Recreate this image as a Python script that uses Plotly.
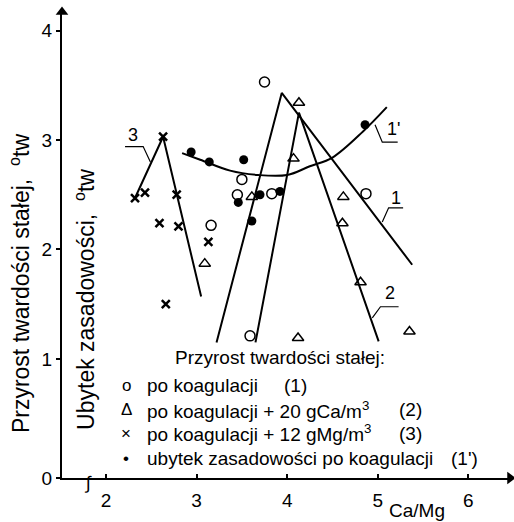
import plotly.graph_objects as go

# ---- data ----
tick_x = [2, 3, 4, 5, 6]
tick_y = [0, 1, 2, 3, 4]

# series 1: po koagulacji (open circles)
x1 = [3.16, 3.75, 3.50, 3.45, 3.83, 3.59, 4.87]
y1 = [2.22, 3.53, 2.64, 2.50, 2.51, 1.21, 2.51]
# series 2: + 20 gCa/m3 (open triangles)
x2 = [3.09, 3.61, 4.07, 4.13, 4.12, 4.62, 4.61, 4.81, 5.35]
y2 = [1.87, 2.48, 2.83, 3.34, 1.19, 2.48, 2.24, 1.70, 1.25]
# series 3: + 12 gMg/m3 (crosses)
x3 = [2.32, 2.43, 2.63, 2.78, 2.59, 2.80, 3.13, 2.66]
y3 = [2.47, 2.52, 3.03, 2.50, 2.24, 2.21, 2.07, 1.50]
# series 1': ubytek zasadowosci (filled dots)
x1p = [2.94, 3.14, 3.52, 3.46, 3.70, 3.92, 3.61, 4.86]
y1p = [2.89, 2.80, 2.82, 2.43, 2.50, 2.53, 2.26, 3.14]

# fitted lines
line1_x = [3.22, 3.94, 5.38]
line1_y = [1.15, 3.43, 1.86]
line2_x = [3.65, 4.13, 5.01]
line2_y = [1.15, 3.25, 1.16]
line3_x = [2.32, 2.63, 3.05]
line3_y = [2.47, 3.03, 1.57]
curve1p_x = [2.84, 3.04, 3.37, 3.68, 4.00, 4.25, 4.50, 4.84, 5.10]
curve1p_y = [2.88, 2.82, 2.72, 2.68, 2.68, 2.76, 2.84, 3.08, 3.30]

FONT = "Liberation Sans, Arial, sans-serif"
X0, X1 = 1.514, 6.46
Y0, Y1 = -0.089, 4.17

fig = go.Figure()

line_style = dict(color="black", width=2)
for lx, ly in [(line1_x, line1_y), (line2_x, line2_y), (line3_x, line3_y)]:
    fig.add_trace(go.Scatter(x=lx, y=ly, mode="lines", line=line_style,
                             showlegend=False, hoverinfo="skip"))
fig.add_trace(go.Scatter(x=curve1p_x, y=curve1p_y, mode="lines",
                         line=dict(color="black", width=2, shape="spline", smoothing=1.0),
                         showlegend=False, hoverinfo="skip"))

fig.add_trace(go.Scatter(x=x1, y=y1, mode="markers", showlegend=False,
                         marker=dict(symbol="circle-open", size=10, color="black",
                                     line=dict(width=1.5, color="black"))))
fig.add_trace(go.Scatter(x=x2, y=y2, mode="markers", showlegend=False,
                         marker=dict(symbol="triangle-up-open", size=10, color="black",
                                     line=dict(width=1.5, color="black"))))
fig.add_trace(go.Scatter(x=x3, y=y3, mode="markers", showlegend=False,
                         marker=dict(symbol="x-thin", size=8, color="black",
                                     line=dict(width=2.5, color="black"))))
fig.add_trace(go.Scatter(x=x1p, y=y1p, mode="markers", showlegend=False,
                         marker=dict(symbol="circle", size=9, color="black")))

# axis arrowheads at the ends of the axes
fig.add_trace(go.Scatter(x=[X0], y=[Y1], mode="markers", showlegend=False, hoverinfo="skip",
                         cliponaxis=False,
                         marker=dict(symbol="triangle-up", size=11, color="black")))
fig.add_trace(go.Scatter(x=[X1], y=[Y0], mode="markers", showlegend=False, hoverinfo="skip",
                         cliponaxis=False,
                         marker=dict(symbol="triangle-right", size=11, color="black")))

ann = []
# axis break
ann.append(dict(x=1.80, y=-0.010, xref="x", yref="paper", text="∫", showarrow=False,
                xanchor="center", yanchor="middle",
                font=dict(family=FONT, size=18, color="black")))

# axis titles
ann.append(dict(x=-0.094, y=0.418, xref="paper", yref="paper", textangle=-90, showarrow=False,
                xanchor="center", yanchor="middle",
                text="Przyrost twardości stałej,\u00a0\u00a0<sup>o</sup>tw",
                font=dict(family=FONT, size=23, color="black")))
ann.append(dict(x=0.051, y=0.384, xref="paper", yref="paper", textangle=-90, showarrow=False,
                xanchor="center", yanchor="middle",
                text="Ubytek zasadowości,\u00a0\u00a0<sup>o</sup>tw",
                font=dict(family=FONT, size=23, color="black")))
ann.append(dict(x=5.43, y=-0.069, xref="x", yref="paper", showarrow=False, text="Ca/Mg",
                xanchor="center", yanchor="middle",
                font=dict(family=FONT, size=19, color="black")))

# curve labels
for tx, ty, t in [(5.20, 2.47, "1"), (5.17, 3.10, "1'"), (5.14, 1.60, "2"), (2.30, 3.05, "3")]:
    ann.append(dict(x=tx, y=ty, xref="x", yref="y", text=t, showarrow=False,
                    xanchor="center", yanchor="middle",
                    font=dict(family=FONT, size=18, color="black")))

# legend block (text)
def px2paper_x(px):
    return (px - 62) / 448.0

def px2paper_y(py):
    return (478 - py) / 466.0

lf = dict(family=FONT, size=19, color="black")
ann.append(dict(x=px2paper_x(173), y=px2paper_y(357), xref="paper", yref="paper",
                xanchor="left", yanchor="middle",
                showarrow=False, text="Przyrost twardości stałej:", font=lf))
rows = [
    (385, "o", "po koagulacji", "(1)", 282),
    (410, "Δ", "po koagulacji + 20 gCa/m<sup>3</sup>", "(2)", 397),
    (433, "×", "po koagulacji + 12 gMg/m<sup>3</sup>", "(3)", 397),
    (458, "•", "ubytek zasadowości po koagulacji", "(1')", 449),
]
for py, sym, txt, num, numx in rows:
    ann.append(dict(x=px2paper_x(126), y=px2paper_y(py), xref="paper", yref="paper",
                    xanchor="center", yanchor="middle",
                    showarrow=False, text=sym, font=dict(family=FONT, size=17, color="black")))
    ann.append(dict(x=px2paper_x(145), y=px2paper_y(py), xref="paper", yref="paper",
                    xanchor="left", yanchor="middle",
                    showarrow=False, text=txt, font=lf))
    ann.append(dict(x=px2paper_x(numx), y=px2paper_y(py), xref="paper", yref="paper",
                    xanchor="left", yanchor="middle",
                    showarrow=False, text=num, font=lf))

# leader lines for curve labels
shapes = []
leaders = [
    [(5.05, 2.25), (5.12, 2.38), (5.28, 2.38)],
    [(4.97, 3.14), (5.05, 2.98), (5.22, 2.98)],
    [(4.94, 1.375), (5.03, 1.476), (5.23, 1.476)],
    [(2.49, 2.80), (2.41, 2.94), (2.21, 2.94)],
]
for pts in leaders:
    path = "M " + " L ".join(f"{a},{b}" for a, b in pts)
    shapes.append(dict(type="path", path=path, xref="x", yref="y",
                       line=dict(color="black", width=1.2)))

fig.update_layout(
    width=514, height=522,
    margin=dict(l=62, r=4, t=12, b=44),
    paper_bgcolor="white", plot_bgcolor="white",
    font=dict(family=FONT, size=19, color="black"),
    annotations=ann, shapes=shapes,
    xaxis=dict(range=[X0, X1], tickvals=tick_x, ticktext=[str(v) for v in tick_x],
               ticks="inside", ticklen=4, tickwidth=1.5, tickcolor="black",
               showline=True, linecolor="black", linewidth=2, showgrid=False, zeroline=False,
               ticklabelstandoff=4, tickfont=dict(family=FONT, size=19)),
    yaxis=dict(range=[Y0, Y1], tickvals=[Y0] + tick_y[1:], ticktext=[str(v) for v in tick_y],
               ticks="outside", ticklen=4, tickwidth=1.5, tickcolor="black",
               showline=True, linecolor="black", linewidth=2, showgrid=False, zeroline=False,
               tickfont=dict(family=FONT, size=19)),
)

fig.write_html("out.html", config={"displayModeBar": False},
               post_script="document.body.style.margin='0';")
